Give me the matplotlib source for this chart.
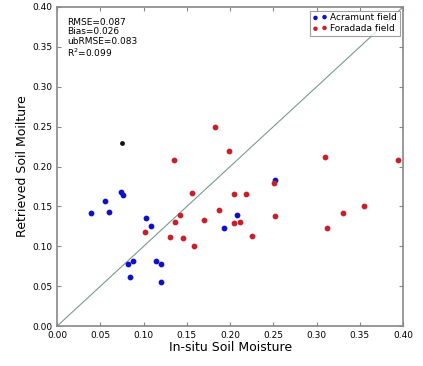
import numpy as np
import matplotlib.pyplot as plt

# Acramunt field (in-situ, retrieved)
acr_x = [0.039, 0.055, 0.060, 0.074, 0.076, 0.103, 0.109, 0.193, 0.208, 0.252,
         0.082, 0.088, 0.084, 0.114, 0.120, 0.120]
acr_y = [0.142, 0.157, 0.143, 0.168, 0.164, 0.135, 0.126, 0.123, 0.139, 0.183,
         0.078, 0.081, 0.061, 0.081, 0.078, 0.055]
# single dark point
dark_x = [0.0755]
dark_y = [0.229]

# Foradada field
for_x = [0.102, 0.135, 0.183, 0.199, 0.156, 0.142, 0.136, 0.131, 0.145, 0.158,
         0.170, 0.187, 0.205, 0.212, 0.204, 0.218, 0.394, 0.310, 0.251, 0.252,
         0.225, 0.331, 0.355, 0.312]
for_y = [0.118, 0.208, 0.249, 0.220, 0.167, 0.139, 0.130, 0.112, 0.110, 0.100,
         0.133, 0.146, 0.129, 0.131, 0.165, 0.166, 0.208, 0.212, 0.179, 0.138,
         0.113, 0.142, 0.150, 0.123]

stats = ["RMSE=0.087", "Bias=0.026", "ubRMSE=0.083", "R$^2$=0.099"]

fig = plt.figure(figsize=(4.23, 3.66), dpi=100)
ax = fig.add_axes([0.135, 0.109, 0.818, 0.872])

# 1:1 line
ax.plot([0, 0.4], [0, 0.4], color='#7a9a8e', linewidth=0.8)
ax.scatter(acr_x, acr_y, s=10, color='#1010c8', label='Acramunt field', zorder=3)
ax.scatter(dark_x, dark_y, s=6, color='#101020', zorder=3)
ax.scatter(for_x, for_y, s=10, color='#c8202a', label='Foradada field', zorder=3)

ax.set_xlim(0, 0.4)
ax.set_ylim(0, 0.4)
ax.set_xticks(np.arange(0, 0.401, 0.05))
ax.set_yticks(np.arange(0, 0.401, 0.05))
ax.tick_params(direction='in', labelsize=6.5, length=3, top=True, right=True,
               color='#888888')
for sp in ax.spines.values():
    sp.set_color('#888888')
    sp.set_linewidth(1.2)

ax.set_xlabel('In-situ Soil Moisture', fontsize=9, labelpad=1)
ax.set_ylabel('Retrieved Soil Moilture', fontsize=9, labelpad=2)

ax.text(0.03, 0.965, "\n".join(stats), transform=ax.transAxes, fontsize=6.5,
        va='top', ha='left', linespacing=1.05)

leg = ax.legend(loc='upper right', fontsize=6.5, scatterpoints=2, fancybox=False,
                markerscale=0.7, handletextpad=0.3, handlelength=1.6,
                borderpad=0.3, labelspacing=0.2, borderaxespad=0.4)
leg.get_frame().set_edgecolor('#888888')
leg.get_frame().set_linewidth(0.8)

fig.savefig('out.png', dpi=100)
